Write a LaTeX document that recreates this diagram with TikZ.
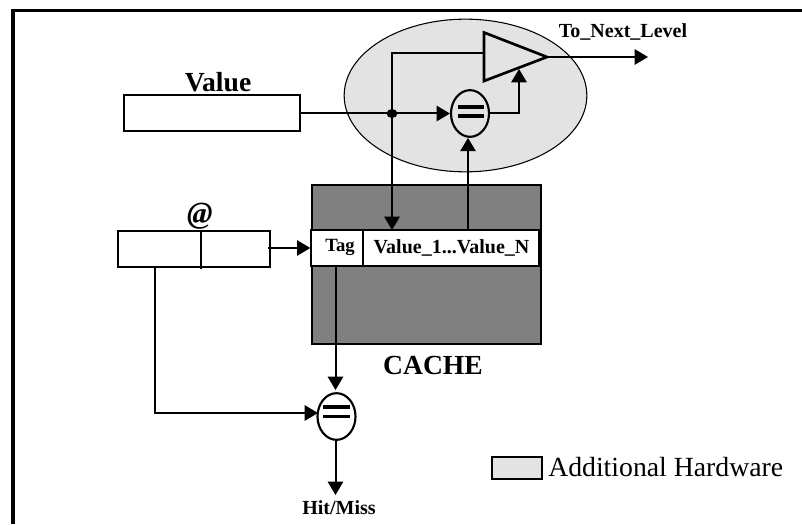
\documentclass[tikz,border=0pt]{standalone}
\usepackage{fontspec}
\setmainfont{Liberation Serif}
\usetikzlibrary{arrows.meta,shapes.geometric}
\definecolor{hwgray}{gray}{0.89}
\definecolor{cachegray}{gray}{0.5}
\tikzset{
  wire/.style={line width=1.5pt},
  conn/.style={wire,-{Triangle[length=10pt,width=11.5pt]}},
  reg/.style={draw,line width=1.5pt,fill=white,inner sep=0pt},
  cmp/.style={draw,ellipse,line width=1.6pt,inner sep=0pt,minimum width=28.5pt,minimum height=35pt},
  bars/.style={line width=2.5pt},
  lab/.style={inner sep=0pt},
  small/.style={lab,font=\bfseries\fontsize{15pt}{17pt}\selectfont},
  big/.style={lab,font=\bfseries\fontsize{20.7pt}{23pt}\selectfont},
}
\begin{document}
\begin{tikzpicture}[x=0.75pt,y=-0.75pt]
\useasboundingbox (0,0) rectangle (802,524);
\draw[line width=2.3pt] (13,524) -- (13,10.5) -- (802,10.5);
% Additional hardware ellipse
\node[draw,ellipse,line width=0.8pt,fill=hwgray,minimum width=182pt,minimum height=114.5pt,inner sep=0pt] (hw) at (465.5,95.5) {};
% Cache
\node[draw,line width=1.5pt,fill=cachegray,minimum width=172pt,minimum height=119pt,inner sep=0pt] (cache) at (426.5,264.5) {};
\node[reg,minimum width=172pt,minimum height=27pt] (line) at (426,248) {};
\node[small,font=\bfseries\fontsize{14pt}{16pt}\selectfont] (tag) at (340,247) {Tag};
\node[small] (vals) at (451.5,248) {Value\_1...Value\_N};
\coordinate (sepT) at (363,230);
\coordinate (sepB) at (363,266);
\draw[wire] (sepT) -- (sepB);
\coordinate (edgeT) at (539.5,230);
\coordinate (edgeB) at (539.5,266);
\draw[line width=2.2pt] (edgeT) -- (edgeB);
\node[big] (cachelab) at (433,365) {CACHE};
% Value register
\node[reg,minimum width=132pt,minimum height=27pt] (value) at (212,113.5) {};
\node[big] (valuelab) at (218,82) {Value};
% Address register
\node[reg,minimum width=114pt,minimum height=27pt] (addr) at (194,249) {};
\node[lab,font=\bfseries\itshape\fontsize{23pt}{25pt}\selectfont] (at) at (200,216) {@};
\coordinate (addrT) at (201,231);
\coordinate (addrB) at (201,269);
\draw[wire] (addrT) -- (addrB);
% Comparators
\node[cmp,fill=hwgray] (eq1) at (470,113.5) {};
\draw[bars] (458,107) -- (484,107) (458,116) -- (484,116);
\node[cmp,fill=white] (eq2) at (336.5,416.5) {};
\draw[bars] (323,407) -- (350,407) (323,416.5) -- (350,416.5);
% Buffer triangle
\coordinate (triA) at (484,32.5);
\coordinate (triB) at (484,81);
\coordinate (triC) at (547,57);
\draw[line width=2pt,fill=hwgray,line join=miter] (triA) -- (triC) -- (triB) -- cycle;
% Connectors
\coordinate (dot) at (392,113.5);
\coordinate (next) at (648,57);
\node[small] (nextlab) at (623,31.5) {To\_Next\_Level};
\coordinate (ctl) at (484,53);
\coordinate (valIn) at (392,230);
\coordinate (amp) at (519,69);
\coordinate (valOut) at (468,231);
\coordinate (addrOut) at (268,248);
\coordinate (tagOut) at (335.5,266);
\coordinate (tagIn) at (335.5,390);
\coordinate (lowBus) at (155,267);
\coordinate (lowIn) at (318,413);
\coordinate (hitStart) at (335.5,440);
\coordinate (hitEnd) at (335.5,495);
\draw[conn] (value.east) -- (eq1.west);
\fill (dot) ellipse[x radius=5.5,y radius=4.5];
\draw[conn] (ctl) -| (valIn);
\draw[conn] (eq1.east) -| (amp);
\draw[conn] (valOut) -- (valOut |- eq1.south);
\draw[conn] (triC) -- (next);
\draw[conn] (addrOut) -- (addrOut -| line.west);
\draw[conn] (tagOut) -- (tagIn);
\draw[conn] (lowBus) |- (lowIn);
\draw[conn] (hitStart) -- (hitEnd);
\node[small] (hit) at (339,508) {Hit/Miss};
% Legend
\node[draw,line width=1.5pt,fill=hwgray,minimum width=37.5pt,minimum height=16pt,inner sep=0pt] (key) at (516.5,468) {};
\node[inner sep=0pt,anchor=base west,font=\fontsize{20.8pt}{23pt}\selectfont] (keylab) at (548,476) {Additional Hardware};
\end{tikzpicture}
\end{document}
